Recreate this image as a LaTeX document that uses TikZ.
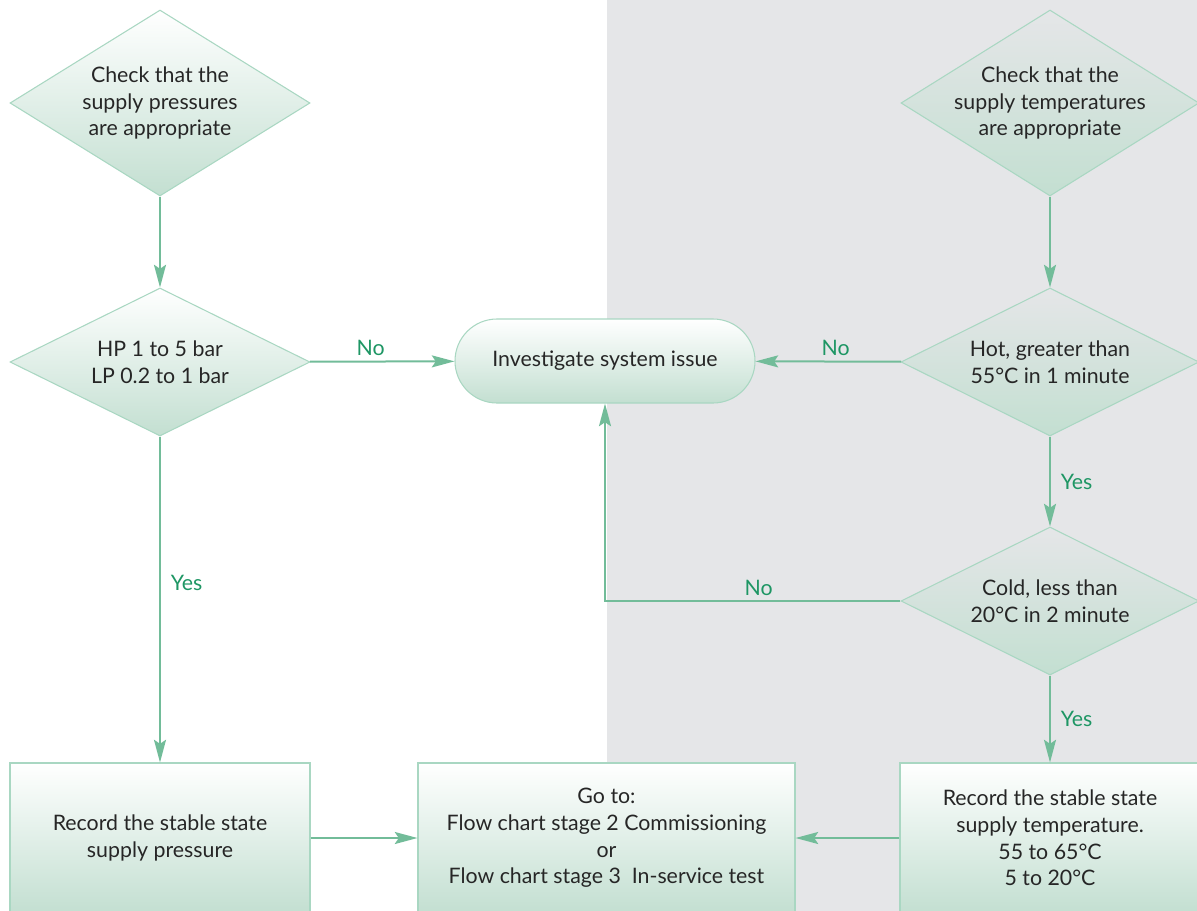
\documentclass[tikz,border=0pt]{standalone}
\usepackage{fontspec}
\setmainfont{Lato}
\usetikzlibrary{shapes.geometric, arrows.meta}
\definecolor{flowline}{HTML}{72BC99}
\definecolor{flowlabel}{HTML}{1E9664}
\definecolor{flowedge}{HTML}{A9D7C2}
\definecolor{flowfill}{HTML}{C3DFD1}
\definecolor{flowtext}{HTML}{262626}
\definecolor{panelgray}{HTML}{E5E6E8}
\tikzset{
  check/.style={diamond, draw=flowedge, line width=0.8pt, inner sep=0pt,
    minimum width=225pt, minimum height=111pt, top color=#1, bottom color=flowfill},
  check/.default=white,
  dtext/.style={align=center, text=flowtext, inner sep=0pt,
    font=\fontsize{16}{20}\selectfont},
  stepbox/.style={rectangle, draw=flowedge, line width=0.8pt, align=center,
    text=flowtext, font=\fontsize{16}{20}\selectfont, minimum height=112.5pt,
    top color=#1, bottom color=flowfill},
  stepbox/.default=white,
  issuebox/.style={rectangle, rounded corners=31.5pt, draw=flowedge, line width=0.8pt,
    text=flowtext, font=\fontsize{16}{20}\selectfont, minimum width=225pt,
    minimum height=63pt, top color=white, bottom color=flowfill},
  flow/.style={draw=flowline, line width=1.5pt,
    -{Stealth[length=17pt, width=9pt, inset=3pt]}},
  answer/.style={text=flowlabel, font=\fontsize{16}{20}\selectfont}
}
\begin{document}
\begin{tikzpicture}[x=0.75pt, y=-0.75pt]
\useasboundingbox (0,0) rectangle (1197,911);
\fill[panelgray] (607,0) rectangle (1197,911);

\node[check, minimum height=139.5pt] (pres) at (160,103) {};
\node[dtext] (pres-t) at (pres) {Check that the\\supply pressures\\are appropriate};
\node[check] (range) at (160,362) {};
\node[dtext] (range-t) at (range) {HP 1 to 5 bar\\LP 0.2 to 1 bar};

\node[check=panelgray, minimum width=223.5pt, minimum height=139.5pt] (temp) at (1050,103) {};
\node[dtext] (temp-t) at (temp) {Check that the\\supply temperatures\\are appropriate};
\node[check=panelgray, minimum width=223.5pt] (hot) at (1050,362) {};
\node[dtext] (hot-t) at (hot) {Hot, greater than\\55°C in 1 minute};
\node[check=panelgray, minimum width=223.5pt] (cold) at (1050,601) {};
\node[dtext] (cold-t) at (cold) {Cold, less than\\20°C in 2 minute};

\node[issuebox] (issue) at (605,361) {Investigate system issue};

\node[stepbox, minimum width=225pt] (rec-p) at (160,838)
  {Record the stable state\\supply pressure};
\node[stepbox, minimum width=282.75pt] (goto) at (606.5,838)
  {Go to:\\Flow chart stage 2 Commissioning\\or\\Flow chart stage 3\ \ In-service test};
\node[stepbox, minimum width=225pt] (rec-t) at (1050,838)
  {Record the stable state\\supply temperature.\\55 to 65°C\\5 to 20°C};

\draw[flow] (pres) -- (range);
\draw[flow] (range) -- node[answer, above, pos=0.42] {No} (issue);
\draw[flow] (range) -- node[answer, right=4pt, pos=0.45] {Yes} (rec-p);
\draw[flow] (temp) -- (hot);
\draw[flow] (hot) -- node[answer, above, pos=0.45] {No} (issue);
\draw[flow] (hot) -- node[answer, right=4pt] {Yes} (cold);
\draw[flow] (cold) -| node[answer, above, pos=0.24] {No} (issue);
\draw[flow] (cold) -- node[answer, right=4pt] {Yes} (rec-t);
\draw[flow] (rec-p) -- (goto);
\draw[flow] (rec-t) -- (goto);
\end{tikzpicture}
\end{document}
